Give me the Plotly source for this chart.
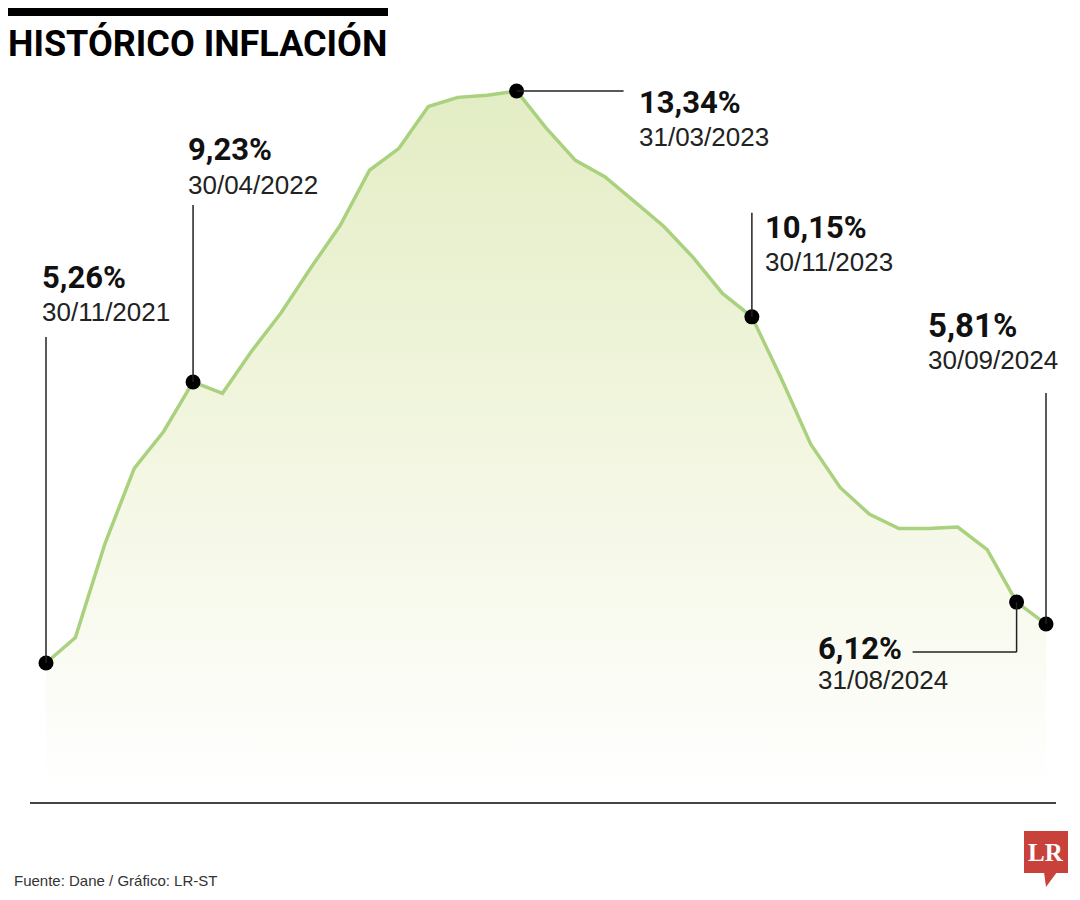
import plotly.graph_objects as go

# ---- data ----
months = ["30/11/2021", "31/12/2021", "31/01/2022", "28/02/2022", "31/03/2022", "30/04/2022",
          "31/05/2022", "30/06/2022", "31/07/2022", "31/08/2022", "30/09/2022", "31/10/2022",
          "30/11/2022", "31/12/2022", "31/01/2023", "28/02/2023", "31/03/2023", "30/04/2023",
          "31/05/2023", "30/06/2023", "31/07/2023", "31/08/2023", "30/09/2023", "31/10/2023",
          "30/11/2023", "31/12/2023", "31/01/2024", "29/02/2024", "31/03/2024", "30/04/2024",
          "31/05/2024", "30/06/2024", "31/07/2024", "31/08/2024", "30/09/2024"]
inflation = [5.26, 5.62, 6.94, 8.01, 8.53, 9.23, 9.07, 9.67, 10.21, 10.84, 11.44, 12.22,
             12.53, 13.12, 13.25, 13.28, 13.34, 12.82, 12.36, 12.13, 11.78, 11.43, 10.99, 10.48,
             10.15, 9.28, 8.35, 7.74, 7.36, 7.16, 7.16, 7.18, 6.86, 6.12, 5.81]
highlight_idx = [0, 5, 16, 24, 33, 34]

# ---- label layout (pixel offsets from each highlighted point) ----
# idx: (text xshift, value yshift, date yshift, value font size)
label_pos = {
    0: (-4, 386, 351, 31),
    5: (-5, 232, 197, 31),
    16: (122, -11, -46, 31),
    24: (13, 89, 55, 31),
    34: (-118, 299, 264, 33),
    33: (-199, -46, -78, 31),
}

# page body has an 8px margin: figure occupies reference pixels 8..1080 / 8..900
OFF = 8
W, H = 1080 - OFF, 900 - OFF
def px(p):  # reference x pixel -> paper
    return (p - OFF) / W
def py(q):  # reference y pixel -> paper
    return 1 - (q - OFF) / H

x = list(range(len(inflation)))
LINE_GREEN = "#a9d17e"
VAL_FONT = "Roboto, Liberation Sans, Arial, sans-serif"
DATE_FONT = "Liberation Sans, Arial, sans-serif"

fig = go.Figure()
fig.add_trace(go.Scatter(
    x=x, y=inflation, mode="lines",
    line=dict(color=LINE_GREEN, width=3.5),
    fill="tozeroy",
    fillgradient=dict(type="vertical", start=3.42, stop=13.34,
                      colorscale=[[0, "rgba(255,255,255,1)"], [0.5, "#f2f6e0"], [1, "#e3edc4"]]),
    hoverinfo="skip", showlegend=False,
))
fig.add_trace(go.Scatter(
    x=[x[i] for i in highlight_idx], y=[inflation[i] for i in highlight_idx],
    mode="markers", marker=dict(color="black", size=15),
    hoverinfo="skip", showlegend=False,
))

shapes = []
def vline(i, up):
    shapes.append(dict(type="line", xref="x", yref="y", ysizemode="pixel", yanchor=inflation[i],
                       x0=i, x1=i, y0=0, y1=up, line=dict(color="#222", width=1.5)))
def hline(i, dy, dx):
    shapes.append(dict(type="line", xref="x", yref="y", xsizemode="pixel", ysizemode="pixel",
                       xanchor=i, yanchor=inflation[i], x0=0, x1=dx, y0=dy, y1=dy,
                       line=dict(color="#222", width=1.5)))
vline(0, 326)
vline(5, 177)
hline(16, 0, 107)
vline(24, 104)
vline(34, 231)
vline(33, -50)
hline(33, -50, -104)

# top black bar
shapes.append(dict(type="rect", xref="paper", yref="paper", x0=px(8), x1=px(388), y0=py(16), y1=py(8),
                   fillcolor="black", line=dict(width=0)))
# baseline
shapes.append(dict(type="line", xref="paper", yref="paper", x0=px(30), x1=px(1056),
                   y0=py(803), y1=py(803), line=dict(color="#444", width=2)))
# LR logo
shapes.append(dict(type="rect", xref="paper", yref="paper", x0=px(1024), x1=px(1068),
                   y0=py(873), y1=py(831), fillcolor="#c9413b", line=dict(width=0)))
shapes.append(dict(type="path", xref="paper", yref="paper",
                   path=f"M {px(1044)},{py(872)} L {px(1057)},{py(872)} L {px(1046)},{py(887)} Z",
                   fillcolor="#c9413b", line=dict(width=0)))

annotations = []
for i, (xs, vys, dys, vsize) in label_pos.items():
    annotations.append(dict(x=i, y=inflation[i], xref="x", yref="y", showarrow=False,
                            xanchor="left", yanchor="middle", xshift=xs - 2, yshift=vys,
                            text=f"<b>{inflation[i]:.2f}%</b>".replace(".", ","),
                            font=dict(family=VAL_FONT, size=vsize, color="#111")))
    annotations.append(dict(x=i, y=inflation[i], xref="x", yref="y", showarrow=False,
                            xanchor="left", yanchor="middle", xshift=xs - 2, yshift=dys,
                            text=months[i],
                            font=dict(family=DATE_FONT, size=26, color="#222")))

annotations.append(dict(x=px(8), y=py(43), xref="paper", yref="paper", showarrow=False,
                        xanchor="left", yanchor="middle", xshift=-2,
                        text="<b>HISTÓRICO INFLACIÓN</b>",
                        font=dict(family="Roboto, Arial, sans-serif", size=36, color="black")))
annotations.append(dict(x=px(12), y=py(880), xref="paper", yref="paper", showarrow=False,
                        xanchor="left", yanchor="middle", text="Fuente: Dane / Gráfico: LR-ST",
                        font=dict(family=DATE_FONT, size=15, color="#333")))
annotations.append(dict(x=px(1046), y=py(852), xref="paper", yref="paper", showarrow=False,
                        xanchor="center", yanchor="middle", text="<b>LR</b>",
                        font=dict(family="Liberation Serif, DejaVu Serif, serif", size=25, color="white")))

px_per_idx = 1000 / 34
px_per_unit = 572 / 8.08
x_first, y_first, y_peak = 46 - OFF, 663 - OFF, 91 - OFF
fig.update_layout(
    width=W, height=H, margin=dict(l=0, r=0, t=0, b=0),
    paper_bgcolor="white", plot_bgcolor="white",
    xaxis=dict(range=[-x_first / px_per_idx, 34 + (W - x_first - 1000) / px_per_idx],
               visible=False, fixedrange=True),
    yaxis=dict(range=[5.26 - (H - y_first) / px_per_unit, 13.34 + y_peak / px_per_unit],
               visible=False, fixedrange=True),
    shapes=shapes, annotations=annotations,
)
fig.write_html("out.html", config={"displayModeBar": False})
